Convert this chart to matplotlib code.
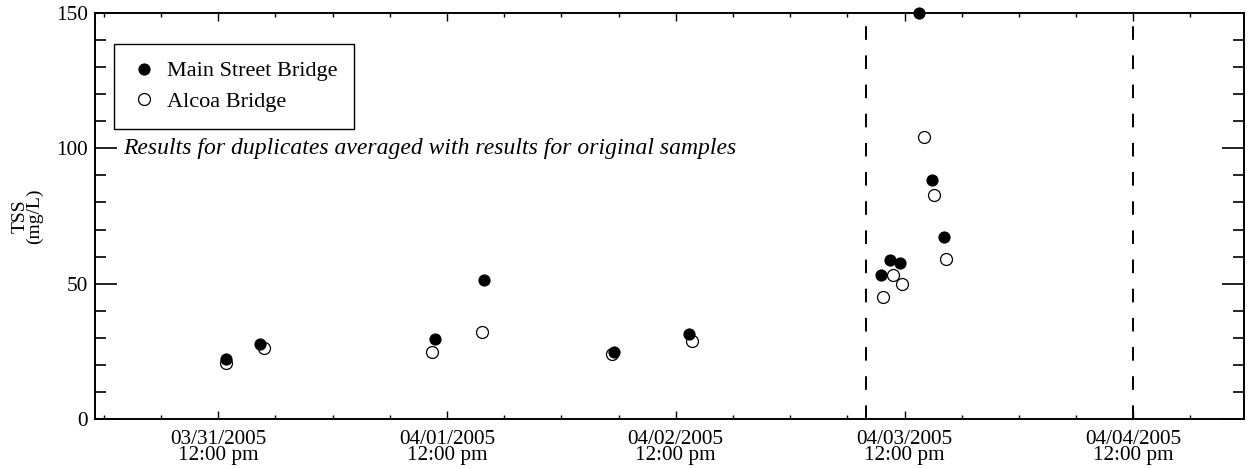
import matplotlib
matplotlib.use('Agg')
import matplotlib.pyplot as plt
import matplotlib.dates as mdates
from matplotlib.ticker import MultipleLocator, FuncFormatter
from datetime import datetime

plt.rcParams['font.family'] = ['Liberation Serif', 'DejaVu Serif']

# sample times and TSS (mg/L)
main_times = ['2005-03-31 12:46', '2005-03-31 16:20', '2005-04-01 10:42', '2005-04-01 15:50',
              '2005-04-02 05:30', '2005-04-02 13:22',
              '2005-04-03 09:31', '2005-04-03 10:30', '2005-04-03 11:33', '2005-04-03 13:30',
              '2005-04-03 14:52', '2005-04-03 16:11']
main_tss = [22.2, 27.8, 29.7, 51.3, 24.9, 31.5, 53.1, 58.9, 57.8, 150.0, 88.2, 67.4]

alcoa_times = ['2005-03-31 12:50', '2005-03-31 16:47', '2005-04-01 10:25', '2005-04-01 15:42',
               '2005-04-02 05:20', '2005-04-02 13:40',
               '2005-04-03 09:46', '2005-04-03 10:49', '2005-04-03 11:47', '2005-04-03 14:01',
               '2005-04-03 15:07', '2005-04-03 16:20']
alcoa_tss = [20.6, 26.1, 24.6, 32.3, 24.0, 28.9, 45.1, 53.3, 49.8, 104.1, 82.7, 59.1]

event_lines = ['2005-04-03 08:00', '2005-04-04 12:00']
x_start = '2005-03-30 23:04'
x_end = '2005-04-04 23:37'

note = 'Results for duplicates averaged with results for original samples'


def to_dt(s):
    return datetime.strptime(s, '%Y-%m-%d %H:%M')


fig = plt.figure(figsize=(12.51, 4.69), dpi=100)
ax = fig.add_axes([0.0759, 0.1066, 0.9185, 0.8657])

h_alcoa, = ax.plot([to_dt(t) for t in alcoa_times], alcoa_tss, 'o', ms=8.6,
                   mfc='white', mec='black', mew=0.9, clip_on=False, zorder=3)
h_main, = ax.plot([to_dt(t) for t in main_times], main_tss, 'o', ms=8.8,
                  mfc='black', mec='black', mew=0, clip_on=False, zorder=4)

for t in event_lines:
    ax.axvline(to_dt(t), color='black', lw=1.4, ls=(0, (7, 8)), zorder=2)

ax.set_xlim(to_dt(x_start), to_dt(x_end))
ax.set_ylim(0, 150)

ax.xaxis.set_major_locator(mdates.HourLocator(byhour=[12]))
ax.xaxis.set_minor_locator(mdates.HourLocator(byhour=[0, 6, 12, 18]))
ax.xaxis.set_major_formatter(FuncFormatter(
    lambda v, p: mdates.num2date(v).strftime('%m/%d/%Y\n%I:%M %p').lower()))
ax.yaxis.set_major_locator(MultipleLocator(50))
ax.yaxis.set_minor_locator(MultipleLocator(10))

ax.tick_params(axis='x', which='major', direction='in', length=5.5, width=1,
               top=True, bottom=True, labelsize=15.3, pad=8)
ax.tick_params(axis='x', which='minor', direction='in', length=3, width=1,
               top=True, bottom=True)
ax.tick_params(axis='y', which='major', direction='in', length=16, width=1.2,
               left=True, right=True, labelsize=15.3, pad=5)
ax.tick_params(axis='y', which='minor', direction='in', length=8, width=1.2,
               left=True, right=True)
for lab in ax.get_xticklabels():
    lab.set_linespacing(0.8)

for sp in ax.spines.values():
    sp.set_linewidth(1.4)

ax.set_ylabel('TSS\n(mg/L)', fontsize=14, linespacing=0.8)
ax.yaxis.set_label_coords(-0.045, 0.5)

leg = ax.legend([h_main, h_alcoa], ['Main Street Bridge', 'Alcoa Bridge'],
                loc='upper left', bbox_to_anchor=(0.0165, 0.923), fontsize=16,
                frameon=True, fancybox=False, edgecolor='black', framealpha=1,
                borderpad=0.75, handletextpad=0.45, handlelength=1.2,
                labelspacing=0.45, borderaxespad=0)
leg.get_frame().set_linewidth(1.0)

ax.text(0.0244, 100, note, transform=ax.get_yaxis_transform(), fontsize=17,
        style='italic', va='center', ha='left')

fig.savefig('out.png', dpi=100)
